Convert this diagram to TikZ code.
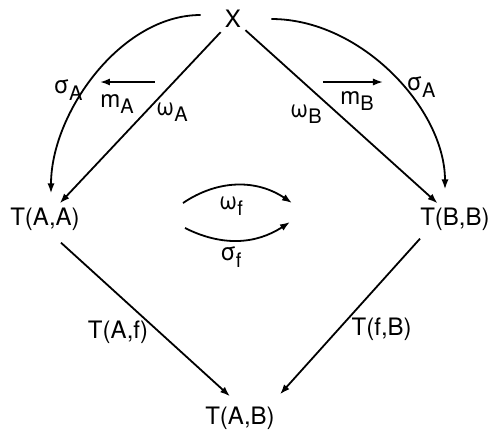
\documentclass[tikz,border=0pt]{standalone}
\usepackage{fontspec}
\setmainfont{TeX Gyre Heros}
\usetikzlibrary{arrows.meta, calc}
\newcommand{\lbl}[2]{#1\raisebox{-.5ex}{\fontsize{10}{11}\selectfont #2}}

\begin{document}
\begin{tikzpicture}[
        x=0.5pt, y=-0.5pt,
        font=\fontsize{12}{14}\selectfont,
        objeto/.style={inner sep=2pt},
        flecha/.style={-{Latex[length=5pt,width=3.6pt]}, line width=0.9pt},
        etiq/.style={inner sep=1pt}
    ]
    \useasboundingbox (0,0) rectangle (489,440);

    % Objetos
    \node[objeto] (X)   at (233,19)  {X};
    \node[objeto] (TAA) at (45,219)  {T(A,A)};
    \node[objeto] (TBB) at (455,219) {T(B,B)};
    \node[objeto] (TAB) at (240,418) {T(A,B)};

    % --- Lado izquierdo ---
    \draw[flecha] ($(X.west)+(-20,-4)$) .. controls +(-80,0) and +(0,-80)
        .. ($(TAA.north)+(6,-10)$);
    \draw[flecha] (X) -- (TAA);
    \coordinate (mA1) at (155,82);
    \coordinate (mA2) at (100,82);
    \draw[flecha] (mA1) -- (mA2);
    \node[etiq] (sA)  at (68,90)   {\lbl{σ}{A}};
    \node[etiq] (mA)  at (117,104) {\lbl{m}{A}};
    \node[etiq] (wA)  at (172,112) {\lbl{ω}{A}};

    % --- Lado derecho ---
    \draw[flecha] ($(X.east)+(26,0)$) .. controls +(90,0) and +(0,-80)
        .. ($(TBB.north)+(-10,-14)$);
    \draw[flecha] (X) -- (TBB);
    \coordinate (mB1) at (323,82);
    \coordinate (mB2) at (383,82);
    \draw[flecha] (mB1) -- (mB2);
    \node[etiq] (sB)  at (421,87)  {\lbl{σ}{A}};
    \node[etiq] (mB)  at (357,101) {\lbl{m}{B}};
    \node[etiq] (wB)  at (306,114) {\lbl{ω}{B}};

    % --- Centro ---
    \coordinate (wf1) at (183,203);
    \coordinate (wf2) at (292,203);
    \coordinate (sf1) at (185,228);
    \coordinate (sf2) at (290,222);
    \draw[flecha] (wf1) to[bend left=34] (wf2);
    \draw[flecha] (sf1) to[bend right=30] (sf2);
    \node[etiq] (wf) at (231,206) {\lbl{ω}{f}};
    \node[etiq] (sf) at (231,257) {\lbl{σ}{f}};

    % --- Parte inferior ---
    \draw[flecha] ($(TAA.south)+(16,8)$) -- ($(TAB.north)+(-10,-6)$)
        node[etiq, pos=0.58, left=4pt] {T(A,f)};
    \draw[flecha] ($(TBB.south)+(-35,4)$) -- ($(TAB.north)+(40,-8)$)
        node[etiq, pos=0.58, right=5pt] {T(f,B)};

\end{tikzpicture}
\end{document}
